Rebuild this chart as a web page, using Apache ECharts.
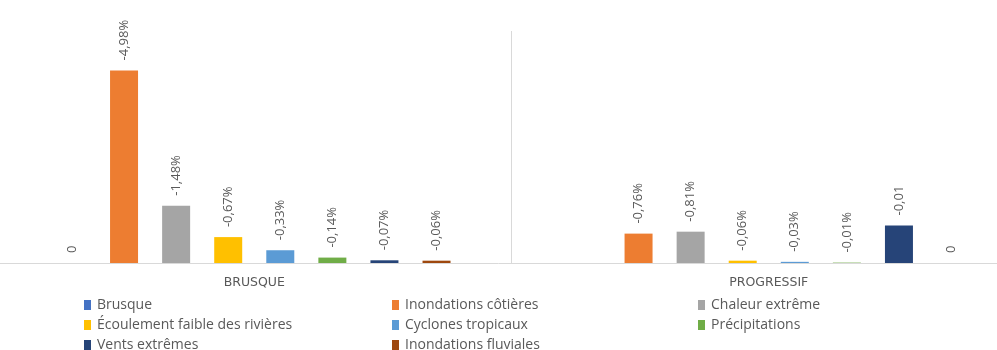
<!DOCTYPE html>
<html>
<head>
<meta charset="utf-8">
<script src="https://cdn.jsdelivr.net/npm/echarts@6/dist/echarts.min.js"></script>
<style>
  html, body { margin: 0; padding: 0; background: #fff; }
  #chart { width: 997px; height: 350px; }
</style>
</head>
<body>
<div id="chart"></div>
<script>
const categories = ['BRUSQUE', 'PROGRESSIF']

const seriesNames = [
  'Brusque',
  'Inondations côtières',
  'Chaleur extrême',
  'Écoulement faible des rivières',
  'Cyclones tropicaux',
  'Précipitations',
  'Vents extrêmes',
  'Inondations fluviales'
]

// hauteurs des barres (valeur absolue de la baisse, en %)
const brusque = [0, null]
const inondationsCotieres = [4.98, 0.76]
const chaleurExtreme = [1.48, 0.81]
const ecoulementFaible = [0.67, 0.06]
const cyclonesTropicaux = [0.33, 0.03]
const precipitations = [0.14, 0.01]
const ventsExtremes = [0.07, 0.97]
const inondationsFluviales = [0.06, 0]

// étiquettes affichées au-dessus des barres
const brusqueLabels = ['0', '']
const inondationsCotieresLabels = ['-4,98%', '-0,76%']
const chaleurExtremeLabels = ['-1,48%', '-0,81%']
const ecoulementFaibleLabels = ['-0,67%', '-0,06%']
const cyclonesTropicauxLabels = ['-0,33%', '-0,03%']
const precipitationsLabels = ['-0,14%', '-0,01%']
const ventsExtremesLabels = ['-0,07%', '-0,01']
const inondationsFluvialesLabels = ['-0,06%', '0']

const seriesValues = [
  brusque, inondationsCotieres, chaleurExtreme, ecoulementFaible,
  cyclonesTropicaux, precipitations, ventsExtremes, inondationsFluviales
]
const seriesLabels = [
  brusqueLabels, inondationsCotieresLabels, chaleurExtremeLabels, ecoulementFaibleLabels,
  cyclonesTropicauxLabels, precipitationsLabels, ventsExtremesLabels, inondationsFluvialesLabels
]

const colors = ['#4472C4', '#ED7D31', '#A5A5A5', '#FFC000', '#5B9BD5', '#70AD47', '#264478', '#9E480E']

const legendColumns = [
  ['Brusque', 'Écoulement faible des rivières', 'Vents extrêmes'],
  ['Inondations côtières', 'Cyclones tropicaux', 'Inondations fluviales'],
  ['Chaleur extrême', 'Précipitations']
]
const legendLeft = [84, 392, 698]

const labelOptions = {
  show: true,
  position: 'top',
  distance: 10,
  rotate: 90,
  align: 'left',
  verticalAlign: 'middle',
  color: '#595959',
  fontFamily: 'Open Sans',
  fontSize: 13
}

const seriesArr = seriesNames.map((name, i) => ({
  name: name,
  type: 'bar',
  barWidth: 28,
  barGap: '86%',
  data: seriesValues[i],
  itemStyle: { color: colors[i] },
  label: Object.assign({}, labelOptions, {
    formatter: p => seriesLabels[i][p.dataIndex]
  })
}))

const option = {
  backgroundColor: '#fff',
  animation: false,
  color: colors,
  legend: legendColumns.map((col, i) => ({
    data: col,
    orient: 'vertical',
    left: legendLeft[i],
    top: 298,
    height: 80,
    padding: 0,
    icon: 'rect',
    itemWidth: 7,
    itemHeight: 10,
    itemGap: 6,
    selectedMode: false,
    textStyle: {
      color: '#595959',
      fontFamily: 'Open Sans',
      fontSize: 14,
      padding: [0, 0, 0, 1]
    }
  })),
  grid: {
    top: 31,
    bottom: 87,
    left: -3,
    width: 1029,
    outerBoundsMode: 'none'
  },
  xAxis: {
    type: 'category',
    data: categories,
    axisTick: { show: false },
    axisLine: { lineStyle: { color: '#d9d9d9', width: 1 } },
    axisLabel: {
      color: '#595959',
      fontFamily: 'DejaVu Sans',
      fontSize: 12.5,
      margin: 13
    },
    splitLine: {
      show: true,
      showMinLine: false,
      showMaxLine: false,
      lineStyle: { color: '#d9d9d9', width: 1 }
    }
  },
  yAxis: {
    type: 'value',
    min: 0,
    max: 6,
    show: false
  },
  series: seriesArr
}

const chart = echarts.init(document.getElementById('chart'))
chart.setOption(option)
</script>
</body>
</html>
